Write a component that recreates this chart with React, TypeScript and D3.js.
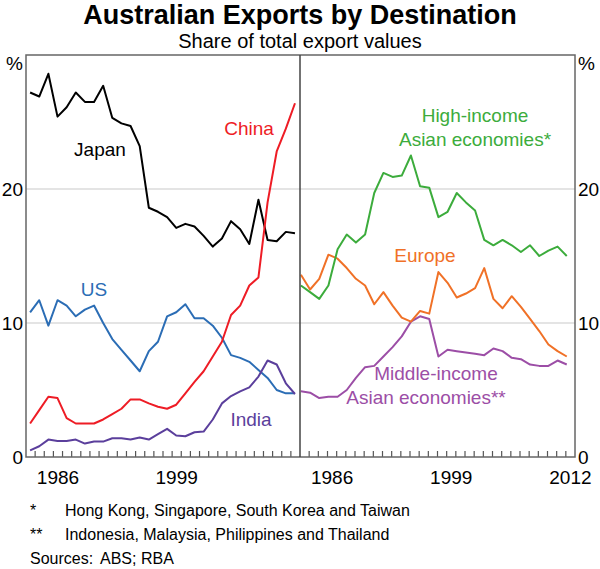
import React from 'react';
import * as d3 from 'd3';

// Annual shares of total export values (%), 1983-2012
const years = d3.range(1983, 2013);

const japan = [27.2, 26.9, 28.6, 25.4, 26.1, 27.2, 26.5, 26.5, 27.7, 25.3, 24.9, 24.7, 23.2, 18.6, 18.3, 17.9, 17.1, 17.4, 17.2, 16.5, 15.7, 16.3, 17.6, 17.0, 15.9, 19.2, 16.2, 16.1, 16.8, 16.7];
const china = [2.5, 3.5, 4.5, 4.4, 2.9, 2.5, 2.5, 2.5, 2.8, 3.2, 3.6, 4.3, 4.3, 4.0, 3.75, 3.6, 3.9, 4.75, 5.6, 6.4, 7.5, 8.6, 10.6, 11.3, 12.8, 13.4, 19.0, 22.8, 24.5, 26.4];
const us = [10.8, 11.7, 9.8, 11.7, 11.3, 10.5, 11.0, 11.3, 10.0, 8.8, 8.0, 7.2, 6.4, 7.9, 8.6, 10.5, 10.8, 11.4, 10.35, 10.35, 9.8, 8.9, 7.6, 7.4, 7.1, 6.5, 5.9, 5.0, 4.75, 4.75];
const india = [0.5, 0.8, 1.3, 1.2, 1.2, 1.3, 1.0, 1.15, 1.15, 1.4, 1.4, 1.3, 1.45, 1.3, 1.7, 2.1, 1.6, 1.55, 1.85, 1.9, 2.8, 4.0, 4.55, 4.9, 5.2, 6.0, 7.2, 6.9, 5.5, 4.7];

const highIncome = [12.8, 12.3, 11.8, 12.8, 15.5, 16.6, 16.0, 16.6, 19.7, 21.2, 20.9, 21.0, 22.5, 20.2, 20.1, 17.9, 18.3, 19.7, 19.0, 18.4, 16.2, 15.8, 16.2, 15.8, 15.3, 15.8, 15.0, 15.4, 15.7, 15.0];
const europe = [13.6, 12.5, 13.3, 15.1, 14.8, 14.1, 13.3, 12.8, 11.4, 12.3, 11.3, 10.4, 10.1, 10.9, 10.7, 13.8, 13.0, 11.9, 12.2, 12.6, 14.1, 11.8, 11.1, 12.0, 11.2, 10.3, 9.4, 8.4, 7.9, 7.5];
const middleIncome = [4.9, 4.8, 4.4, 4.5, 4.5, 5.0, 5.9, 6.7, 6.8, 7.5, 8.2, 9.0, 10.1, 10.5, 10.3, 7.5, 8.0, 7.9, 7.8, 7.7, 7.6, 8.1, 7.9, 7.4, 7.3, 6.9, 6.8, 6.8, 7.2, 6.9];

const yTicks = [0, 10, 20];
const gridTicks = [10, 20];
const leftYearLabels = [1986, 1999];
const rightYearLabels = [1986, 1999, 2012];

const footnotes = [
  ['*', 'Hong Kong, Singapore, South Korea and Taiwan'],
  ['**', 'Indonesia, Malaysia, Philippines and Thailand'],
];

const W = 600;
const H = 569;
const font = '"Liberation Sans", Arial, Helvetica, sans-serif';

const left = 26;
const mid = 300;
const right = 575;
const top = 55;
const bottom = 457;

const y = d3.scaleLinear().domain([0, 30]).range([bottom, top]);
const xL = d3.scaleLinear().domain([1983, 2013]).range([left, mid]);
const xR = d3.scaleLinear().domain([1983, 2013]).range([mid, right]);

const Series = ({ values, x, offset, color }) => {
  const line = d3
    .line<number>()
    .x((_, i) => x(years[i] + offset))
    .y((d) => y(d));
  return <path d={line(values) || ''} fill="none" stroke={color} strokeWidth={2} strokeLinejoin="round" />;
};

const Label = ({ x, y, color, children, anchor = 'middle' }) => (
  <text x={x} y={y} fill={color} fontSize={19} textAnchor={anchor}>
    {children}
  </text>
);

export default function App() {
  const tickYears = d3.range(1984, 2013);
  return (
    <svg
      width={W}
      height={H}
      style={{ position: 'absolute', left: 0, top: 0, background: '#fff' }}
      fontFamily={font}
    >
      <text x={W / 2} y={24} textAnchor="middle" fontSize={27} fontWeight="bold">
        Australian Exports by Destination
      </text>
      <text x={W / 2} y={48} textAnchor="middle" fontSize={20}>
        Share of total export values
      </text>

      {/* gridlines */}
      {gridTicks.map((t) => (
        <line key={t} x1={left} x2={right} y1={y(t)} y2={y(t)} stroke="#c9c9c9" strokeWidth={1.2} />
      ))}

      {/* year ticks, inward from the bottom */}
      {tickYears.map((yr) => (
        <g key={yr}>
          <line x1={xL(yr)} x2={xL(yr)} y1={bottom} y2={bottom - 6} stroke="#555" strokeWidth={1.2} />
          <line x1={xR(yr)} x2={xR(yr)} y1={bottom} y2={bottom - 6} stroke="#555" strokeWidth={1.2} />
        </g>
      ))}

      {/* left panel */}
      <Series values={japan} x={xL} offset={0.45} color="#000000" />
      <Series values={us} x={xL} offset={0.45} color="#2b6db5" />
      <Series values={india} x={xL} offset={0.45} color="#5b3f9c" />
      <Series values={china} x={xL} offset={0.45} color="#ee1c25" />

      {/* right panel */}
      <Series values={middleIncome} x={xR} offset={0.1} color="#9c4ea6" />
      <Series values={europe} x={xR} offset={0.1} color="#f07127" />
      <Series values={highIncome} x={xR} offset={0.1} color="#3cac3c" />

      {/* frame */}
      <rect x={left} y={top} width={right - left} height={bottom - top} fill="none" stroke="#666" strokeWidth={1.5} />
      <line x1={mid} x2={mid} y1={top} y2={bottom} stroke="#444" strokeWidth={1.5} />

      {/* y axis labels */}
      {yTicks.map((t) => (
        <g key={t} fontSize={19}>
          <text x={23} y={y(t)} dy="0.35em" textAnchor="end">{t}</text>
          <text x={578} y={y(t)} dy="0.35em" textAnchor="start">{t}</text>
        </g>
      ))}
      <text x={23} y={70} fontSize={19} textAnchor="end">%</text>
      <text x={578} y={70} fontSize={19} textAnchor="start">%</text>

      {/* x axis labels */}
      {leftYearLabels.map((yr) => (
        <text key={'l' + yr} x={xL(yr + 0.5)} y={484} fontSize={19} textAnchor="middle">{yr}</text>
      ))}
      {rightYearLabels.map((yr) => (
        <text key={'r' + yr} x={xR(yr + 0.5)} y={484} fontSize={19} textAnchor="middle">{yr}</text>
      ))}

      {/* series labels */}
      <Label x={100} y={156} color="#000000">Japan</Label>
      <Label x={249} y={135} color="#ee1c25">China</Label>
      <Label x={94} y={296} color="#2b6db5">US</Label>
      <Label x={251} y={426} color="#5b3f9c">India</Label>
      <Label x={475} y={122} color="#3cac3c">High-income</Label>
      <Label x={475} y={146} color="#3cac3c">Asian economies*</Label>
      <Label x={425} y={262} color="#f07127">Europe</Label>
      <Label x={436} y={380} color="#9c4ea6">Middle-income</Label>
      <Label x={426} y={404} color="#9c4ea6">Asian economies**</Label>

      {/* footnotes */}
      {footnotes.map(([mark, txt], i) => (
        <g key={mark} fontSize={16}>
          <text x={30} y={516 + i * 24}>{mark}</text>
          <text x={65} y={516 + i * 24}>{txt}</text>
        </g>
      ))}
      <text x={30} y={564} fontSize={16}>Sources:</text>
      <text x={100} y={564} fontSize={16}>ABS; RBA</text>
    </svg>
  );
}
